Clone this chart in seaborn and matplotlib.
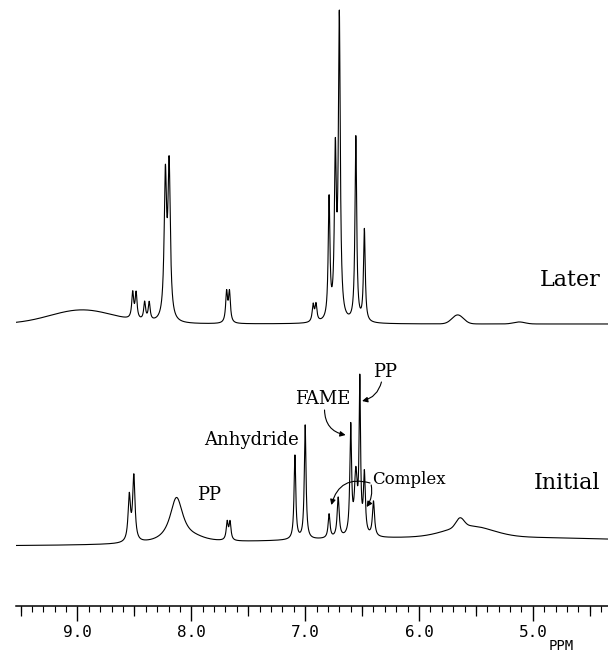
import numpy as np
import pandas as pd
import seaborn as sns
import matplotlib.pyplot as plt

# chemical shift window (ppm), left to right as drawn
ppm_left, ppm_right = 9.54, 4.34

# Initial spectrum: sharp peaks (ppm, height, fwhm) and broad humps (ppm, height, sigma)
init_ppm = [8.545, 8.505, 8.13, 7.96, 7.685, 7.66, 7.09, 7.00, 6.79, 6.71, 6.60, 6.555, 6.52, 6.48, 6.40]
init_height = [45, 65, 45, 3, 18, 18, 84, 114, 24, 40, 108, 60, 150, 60, 35]
init_fwhm = [0.025, 0.025, 0.14, 0.25, 0.02, 0.02, 0.018, 0.018, 0.02, 0.022, 0.018, 0.03, 0.015, 0.02, 0.022]
init_hump_ppm = [5.5, 5.64, 5.56]
init_hump_height = [9, 9, 11]
init_hump_sigma = [1.6, 0.035, 0.2]
init_base = 60

# Later spectrum
later_ppm = [8.515, 8.485, 8.41, 8.37, 8.228, 8.195, 7.69, 7.665, 6.93, 6.905, 6.79, 6.735, 6.70, 6.555, 6.48]
later_height = [26, 26, 18, 18, 140, 150, 30, 30, 17, 17, 120, 160, 300, 185, 92]
later_fwhm = [0.02, 0.02, 0.02, 0.02, 0.025, 0.025, 0.02, 0.02, 0.02, 0.02, 0.018, 0.02, 0.02, 0.018, 0.018]
later_hump_ppm = [8.96, 5.66, 5.12]
later_hump_height = [14, 9, 2]
later_hump_sigma = [0.28, 0.05, 0.05]
later_base = 282

major_ticks = [9.0, 8.0, 7.0, 6.0, 5.0]
mid_ticks = [9.5, 8.5, 7.5, 6.5, 5.5, 4.5]


def spectrum(x, pos, h, w, hpos, hh, hs, base):
    y = np.full_like(x, float(base))
    for p, a, f in zip(pos, h, w):
        g = f / 2
        y += a / (1 + ((x - p) / g) ** 2)
    for p, a, s in zip(hpos, hh, hs):
        y += a * np.exp(-((x - p) ** 2) / (2 * s ** 2))
    return y


x = np.linspace(ppm_left, ppm_right, 8000)
df = pd.DataFrame({
    'ppm': np.concatenate([x, x]),
    'signal': np.concatenate([
        spectrum(x, init_ppm, init_height, init_fwhm, init_hump_ppm, init_hump_height, init_hump_sigma, init_base),
        spectrum(x, later_ppm, later_height, later_fwhm, later_hump_ppm, later_hump_height, later_hump_sigma, later_base),
    ]),
    'trace': ['Initial'] * len(x) + ['Later'] * len(x),
})

sns.set_style('white')
plt.rcParams['font.family'] = ['DejaVu Serif']
plt.rcParams['text.color'] = 'black'

fig = plt.figure(figsize=(6.08, 6.52), dpi=100)
ax = fig.add_axes([16 / 608, 46 / 652, 1 - 16 / 608, 606 / 652])

for name in ['Initial', 'Later']:
    sub = df[df['trace'] == name]
    sns.lineplot(data=sub, x='ppm', y='signal', ax=ax, color='black', lw=0.8,
                 estimator=None, sort=False)

ax.set_xlim(ppm_left, ppm_right)
ax.set_ylim(0, 606)
ax.set_xlabel('')
ax.set_ylabel('')
ax.set_yticks([])
for s in ['top', 'left', 'right']:
    ax.spines[s].set_visible(False)
ax.spines['bottom'].set_linewidth(1.1)
ax.spines['bottom'].set_color('black')

ax.set_xticks(major_ticks)
ax.set_xticklabels([f'{t:.1f}' for t in major_ticks], family='DejaVu Sans Mono', fontsize=11.5, color='black')
ax.set_xticks(np.arange(4.4, 9.55, 0.1), minor=True)
ax.tick_params(axis='x', which='major', length=11, width=1, direction='out', pad=3, bottom=True, colors='black')
ax.tick_params(axis='x', which='minor', length=4, width=0.8, direction='out', bottom=True, color='black')

sec = ax.secondary_xaxis('bottom')
sec.set_xticks(mid_ticks)
sec.set_xticklabels([])
sec.tick_params(length=7, width=0.9, direction='out', color='black')
sec.spines['bottom'].set_visible(False)

ax.text(4.75, -40, 'PPM', family='DejaVu Sans Mono', fontsize=10, ha='center', va='center', color='black')

# trace names
ax.text(4.41, 326, 'Later', fontsize=16, ha='right', va='center', color='black')
ax.text(4.41, 123, 'Initial', fontsize=16, ha='right', va='center', color='black')

# peak labels
ax.text(7.84, 111, 'PP', fontsize=13, ha='center', va='center', color='black')
ax.text(7.47, 166, 'Anhydride', fontsize=13, ha='center', va='center', color='black')
ax.text(6.85, 207, 'FAME', fontsize=13, ha='center', va='center', color='black')
ax.text(6.30, 234, 'PP', fontsize=13, ha='center', va='center', color='black')
ax.text(6.41, 126, 'Complex', fontsize=12, ha='left', va='center', color='black')

arrow = dict(arrowstyle='-|>', color='black', lw=0.8, mutation_scale=8, shrinkA=0, shrinkB=0)
ax.annotate('', xy=(6.645, 171), xytext=(6.83, 196),
            arrowprops=dict(arrow, connectionstyle='arc3,rad=0.4'))
ax.annotate('', xy=(6.50, 205), xytext=(6.33, 224),
            arrowprops=dict(arrow, connectionstyle='arc3,rad=-0.3'))
ax.annotate('', xy=(6.77, 101), xytext=(6.43, 123),
            arrowprops=dict(arrow, connectionstyle='arc3,rad=0.5'))
ax.annotate('', xy=(6.46, 99), xytext=(6.42, 121),
            arrowprops=dict(arrow, connectionstyle='arc3,rad=-0.2'))

fig.savefig('out.png', dpi=100)
